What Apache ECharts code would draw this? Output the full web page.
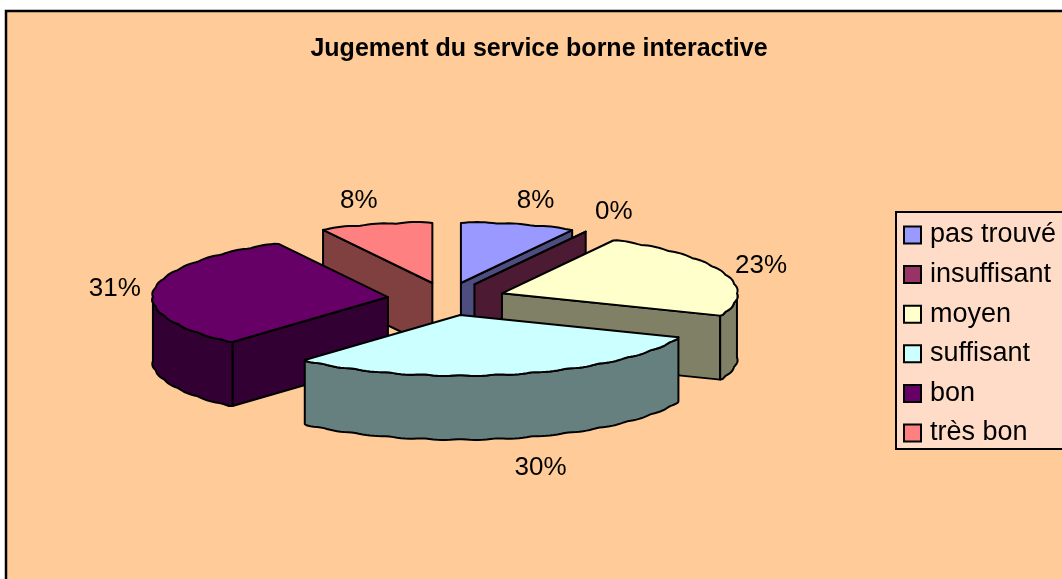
<!DOCTYPE html>
<html><head><meta charset="utf-8">
<style>html,body{margin:0;padding:0;background:#fff}#c{width:1062px;height:579px}</style>
<script src="https://cdn.jsdelivr.net/npm/echarts@6/dist/echarts.min.js"></script>
</head><body><div id="c"></div>
<script>
const categories = ['pas trouvé','insuffisant','moyen','suffisant','bon','très bon'];
const percentValues = [7.85,0,23.2,30.45,30.8,7.7];
const topColors = ['#9999FF','#993366','#FFFFCC','#CCFFFF','#660066','#FF8080'];
const wallColors = ['#4D4D80','#4D1A33','#808066','#668080','#330033','#804040'];
const paintOrder = [5,0,1,4,2,3];
const FONT = '"Liberation Sans", Arial, sans-serif';
const G = {cx:446.5, cy:299, rx:235, ry:60, depth:64, ex:59, ey:16.5, lx:265, ly:85, lyShift:2, scallopDeg:9, scallopPx:1.1};
const labelNudgeX = {1:4, 3:9};
const labelNudgeY = {0:-2, 5:-2};
const total = percentValues.reduce((a,b)=>a+b,0);
const rad = d => d*Math.PI/180;

function sliceRender(i){
  return function(params, api){
    const v = api.value(0);
    let before = 0; for(let k=0;k<i;k++) before += percentValues[k];
    const a = before/total*360, b = a + v/total*360, m = (a+b)/2;
    const ax = G.cx + G.ex*Math.sin(rad(m)), ay = G.cy - G.ey*Math.cos(rad(m));
    const P = (t,dz) => [ax+G.rx*Math.sin(rad(t)), ay-G.ry*Math.cos(rad(t))+(dz||0)];
    // the reference's rims are slightly scalloped
    const R = (t,dz) => {
      const p = P(t,dz);
      if(t<=a||t>=b) return p;
      const w = G.scallopPx*Math.abs(Math.sin(Math.PI*t/G.scallopDeg));
      return [p[0]+w*Math.sin(rad(t)), p[1]-w*Math.cos(rad(t))];
    };
    const style = (f) => ({fill:f, stroke:'#000', lineWidth:2, lineJoin:'round'});
    const arc = (s,e,dz) => {const n=Math.max(1,Math.ceil(Math.abs(e-s))); const o=[]; for(let q=0;q<=n;q++) o.push(R(s+(e-s)*q/n,dz)); return o;};
    const children = [];
    if(Math.cos(rad(a-90))<0) children.push({type:'polygon',shape:{points:[[ax,ay],P(a),P(a,G.depth),[ax,ay+G.depth]]},style:style(wallColors[i])});
    if(Math.cos(rad(b+90))<0) children.push({type:'polygon',shape:{points:[[ax,ay],P(b),P(b,G.depth),[ax,ay+G.depth]]},style:style(wallColors[i])});
    const s=Math.max(a,90), e=Math.min(b,270);
    if(e>s) children.push({type:'polygon',shape:{points:arc(s,e,0).concat(arc(e,s,G.depth))},style:style(wallColors[i])});
    children.push({type:'polygon',shape:{points:[[ax,ay]].concat(arc(a,b,0))},style:style(topColors[i])});
    const sn=Math.sin(rad(m)), cs=Math.cos(rad(m));
    children.push({type:'text',style:{
      x:ax+G.lx*sn+10*Math.sign(sn)+(labelNudgeX[i]||0), y:ay-G.ly*cs+(cs<0?68:0)+G.lyShift+(labelNudgeY[i]||0),
      text:Math.round(v/total*100)+'%', fill:'#000', font:'26px '+FONT, align:'center', verticalAlign:'middle'}});
    return {type:'group',children};
  };
}

const series = categories.map((name,i)=>({
  type:'custom', name, coordinateSystem:'none', z:2+paintOrder.indexOf(i),
  itemStyle:{color:topColors[i]}, data:[[percentValues[i]]], renderItem:sliceRender(i), animation:false, silent:true
}));

const chart = echarts.init(document.getElementById('c'),null,{renderer:'canvas'});
chart.setOption({
  animation:false,
  backgroundColor:'#fff',
  graphic:[{type:'rect',z:-1,silent:true,shape:{x:6,y:11,width:1300,height:900},style:{fill:'#FFCC99',stroke:'#000',lineWidth:2.5}}],
  title:{text:'Jugement du service borne interactive',left:539,top:37,textAlign:'center',padding:0,
    textStyle:{fontFamily:FONT,fontWeight:'bold',fontSize:25,color:'#000'}},
  legend:{orient:'vertical',left:896,top:212,z:20,data:categories,icon:'rect',itemWidth:17,itemHeight:17,itemGap:12.6,
    padding:[9.5,60,2.5,7],backgroundColor:'#FFDCC8',borderColor:'#000',borderWidth:2,borderRadius:0,
    selectedMode:false,itemStyle:{borderColor:'#000',borderWidth:2},
    textStyle:{fontFamily:FONT,fontSize:27,color:'#000',padding:[0,0,0,4]}},
  series
});
</script></body></html>
